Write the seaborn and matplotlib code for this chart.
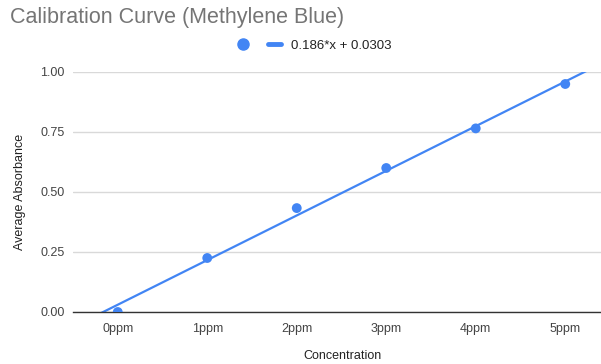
import matplotlib
matplotlib.use("Agg")
import matplotlib.pyplot as plt
from matplotlib.lines import Line2D
import seaborn as sns
import numpy as np
import pandas as pd

# data
concentrations = ["0ppm", "1ppm", "2ppm", "3ppm", "4ppm", "5ppm"]
absorbance = [0.0, 0.225, 0.433, 0.60, 0.765, 0.95]
# trendline shown in the legend
slope = 0.186
intercept = 0.0303
y_ticks = [0.0, 0.25, 0.5, 0.75, 1.0]

blue = "#4285F4"
grey_text = "#444444"

sns.set_theme(style="white")
plt.rcParams["font.family"] = ["Liberation Sans", "DejaVu Sans"]

df = pd.DataFrame({"idx": range(len(concentrations)), "Average Absorbance": absorbance})
trend_x = np.array([-0.5, len(concentrations) - 0.5])
trend = pd.DataFrame({"idx": trend_x, "fit": slope * trend_x + intercept})

fig = plt.figure(figsize=(6.01, 3.64), dpi=100)
ax = fig.add_axes([73 / 601, 1 - 312 / 364, 537 / 601, 240 / 364])

sns.lineplot(data=trend, x="idx", y="fit", ax=ax, color=blue, linewidth=1.6, zorder=2)
sns.scatterplot(data=df, x="idx", y="Average Absorbance", ax=ax, color=blue,
                s=50, edgecolor="none", zorder=3)

ax.set_xlim(-0.5, len(concentrations) - 0.5)
ax.set_ylim(0, 1.0)
ax.set_xticks(range(len(concentrations)))
ax.set_xticklabels(concentrations)
ax.set_yticks(y_ticks)
ax.set_yticklabels([f"{v:.2f}" for v in y_ticks])
ax.tick_params(axis="both", length=0, labelsize=9, colors=grey_text)
ax.tick_params(axis="x", pad=8)
ax.tick_params(axis="y", pad=6)
ax.grid(axis="y", color="#d9d9d9", linewidth=1)
ax.set_axisbelow(True)
for side in ["top", "right", "left"]:
    ax.spines[side].set_visible(False)
ax.spines["bottom"].set_color("#333333")
ax.spines["bottom"].set_linewidth(1)

ax.set_xlabel("Concentration", fontsize=9, color="#222222", labelpad=18)
ax.set_ylabel("Average Absorbance", fontsize=9, color="#222222", labelpad=10)
ax.xaxis.set_label_coords((343 - 73) / 537, -0.16)

fig.text(10 / 601, 1 - 17 / 364, "Calibration Curve (Methylene Blue)",
         fontsize=15.5, color="#757575", va="center", ha="left")

handles = [
    Line2D([], [], marker="o", linestyle="none", color=blue, markersize=8),
    Line2D([], [], color=blue, linewidth=3.5),
]
fig.legend(handles, ["", "0.186*x + 0.0303"], loc="center",
           bbox_to_anchor=(314 / 601, 1 - 46 / 364), ncol=2, frameon=False,
           fontsize=9.5, handlelength=1.0, handletextpad=0.8, columnspacing=0.6,
           labelcolor="#222222")

fig.savefig("out.png", dpi=100)
